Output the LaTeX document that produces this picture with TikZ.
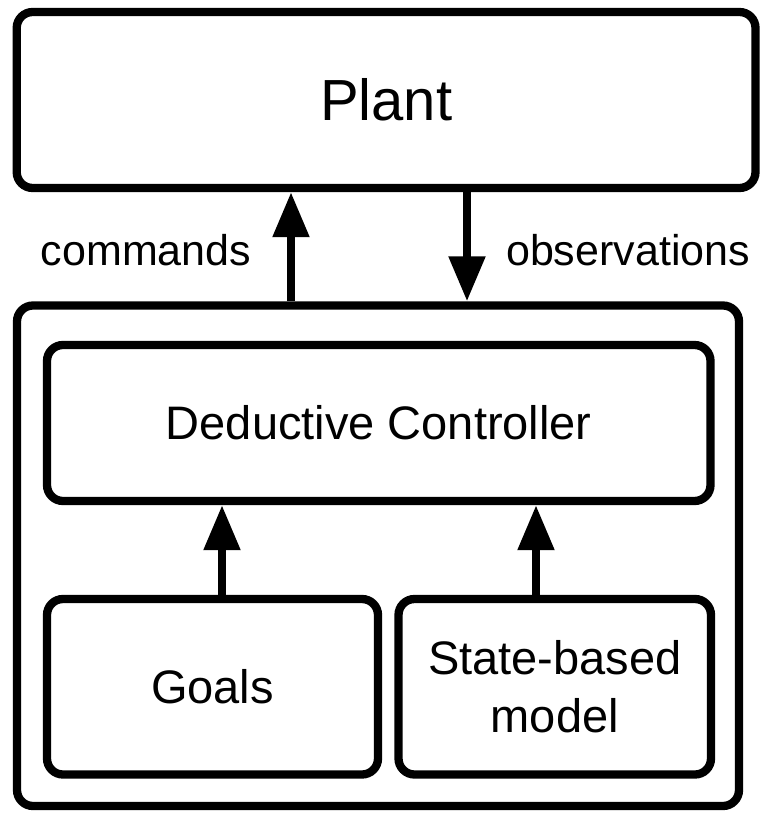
\documentclass[tikz,border=0pt]{standalone}
\usepackage{fontspec}
\setmainfont{Liberation Sans}
\usetikzlibrary{arrows.meta}

\begin{document}
\begin{tikzpicture}[x=1pt, y=-1pt,
  blk/.style={draw=black, line width=8.3pt, rounded corners=16pt,
    fill=white, inner sep=0pt, align=center},
  flow/.style={line width=8.3pt, -{Triangle[length=45pt, width=35pt]}},
  big/.style={font=\fontsize{58}{70}\selectfont},
  mid/.style={font=\fontsize{47}{58}\selectfont},
  lbl/.style={font=\fontsize{43}{52}\selectfont, inner sep=0pt}]

  \useasboundingbox (0,0) rectangle (763,813);

  % plant and the agent around the controller
  \node[blk, big, minimum width=738.8pt, minimum height=176pt] (plant) at (386.1,100) {Plant};
  \node[blk, minimum width=722pt, minimum height=500.5pt] (agent) at (378,555.75) {};

  % parts of the agent
  \node[blk, mid, minimum width=663.5pt, minimum height=156pt] (ctrl) at (378.75,423) {Deductive Controller};
  \node[blk, mid, minimum width=331pt, minimum height=175.5pt] (goals) at (212.5,686.75) {Goals};
  \node[blk, mid, minimum width=312.5pt, minimum height=175.5pt] (model) at (554.75,686.75) {State-based\\model};

  % signals between plant and agent
  \coordinate (cmdx) at (291,0);
  \coordinate (obsx) at (467,0);
  \draw[flow] (agent.north -| cmdx) -- (plant.south -| cmdx);
  \draw[flow] (plant.south -| obsx) -- (agent.north -| obsx);

  % inputs of the controller
  \coordinate (gx) at (222,0);
  \coordinate (mx) at (536,0);
  \draw[flow] (goals.north -| gx) -- (ctrl.south -| gx);
  \draw[flow] (model.north -| mx) -- (ctrl.south -| mx);

  \node[lbl] (cmd) at (146,250) {commands};
  \node[lbl] (obs) at (628,250) {observations};
\end{tikzpicture}
\end{document}
